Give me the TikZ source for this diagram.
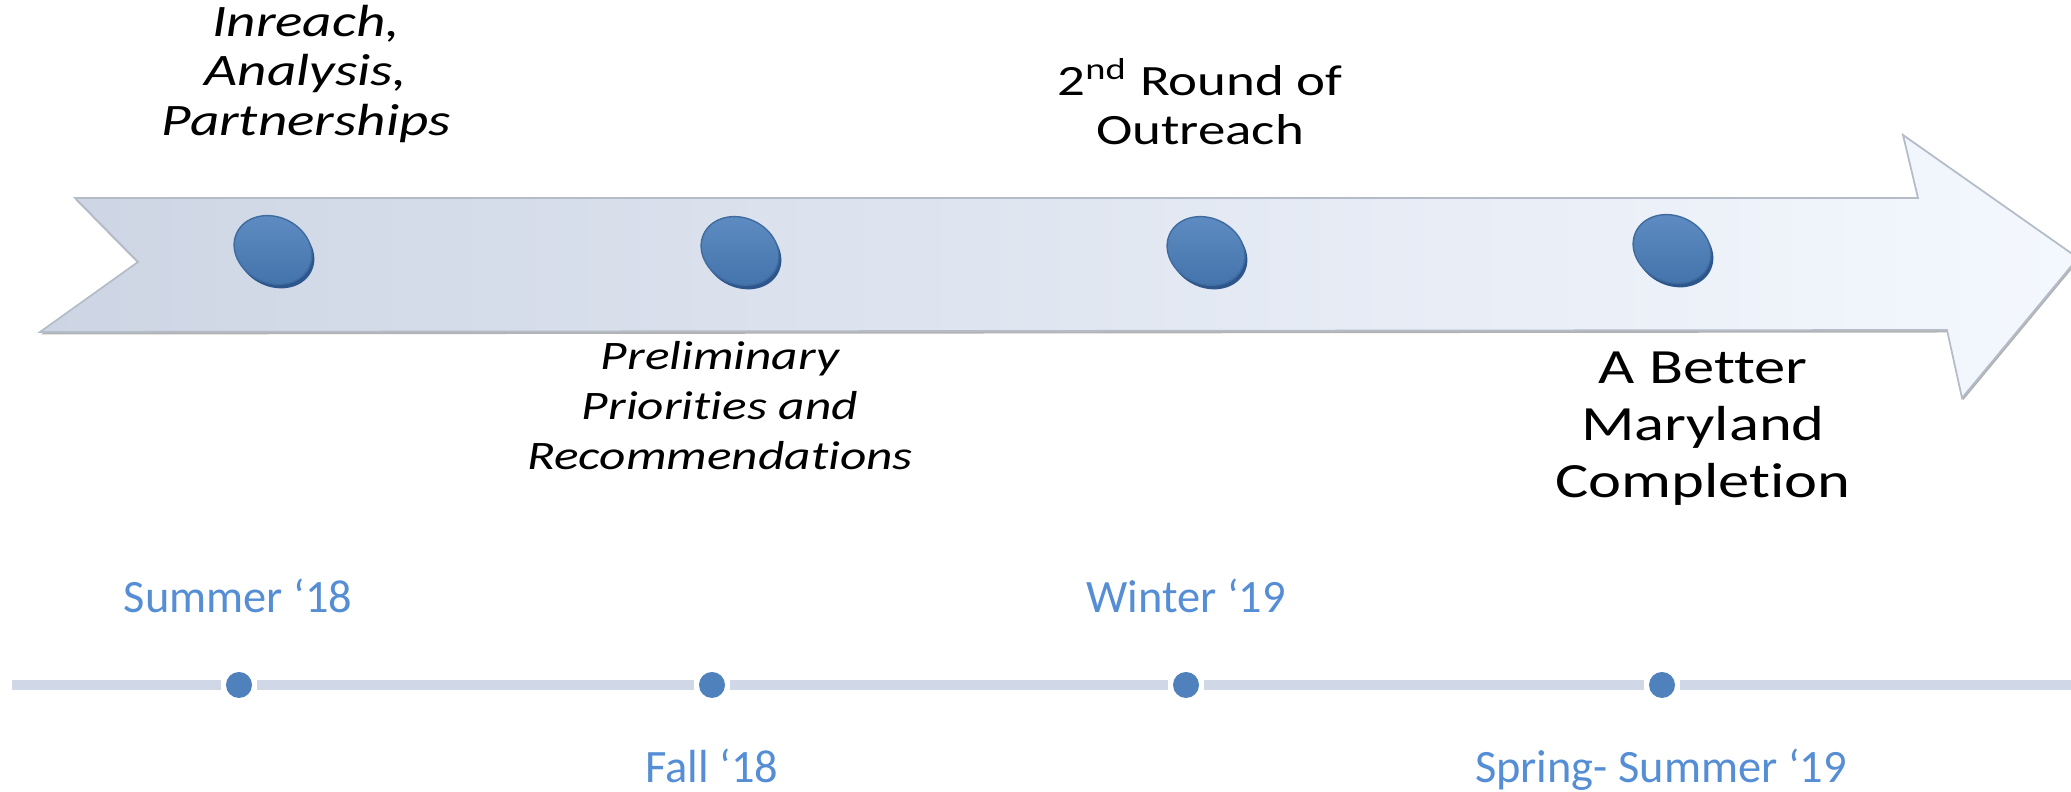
\documentclass[tikz,border=0pt]{standalone}
\usepackage{fontspec}
\setmainfont[Ligatures={NoCommon,NoRare,NoContextual},Contextuals=NoAlternate]{Carlito}
\newfontfamily\phasefont[FakeStretch=1.27,Ligatures={NoCommon,NoRare,NoContextual},Contextuals=NoAlternate]{Carlito}
\usepackage{tikz}
\usetikzlibrary{shapes,shadows}
\definecolor{bandleft}{RGB}{205,213,228}
\definecolor{bandright}{RGB}{244,248,254}
\definecolor{bandedge}{RGB}{180,188,200}
\definecolor{diskblue}{RGB}{74,126,187}
\definecolor{diskdark}{RGB}{45,86,140}
\definecolor{lineblue}{RGB}{208,216,232}
\definecolor{dotblue}{RGB}{79,129,189}
\definecolor{dateblue}{RGB}{85,142,213}

\begin{document}
\begin{tikzpicture}[x=0.01cm,y=-0.01cm]
      \tikzstyle{band} = [left color=bandleft, right color=bandright, draw=bandedge, line width=0.5pt, line join=miter, drop shadow={shadow xshift=0.01cm, shadow yshift=-0.025cm, fill=black, opacity=0.3}]
      \tikzstyle{disk} = [ellipse, minimum width=0.8cm, minimum height=0.66cm, inner sep=0pt, rotate=-25, top color=diskblue!88!white, bottom color=diskblue!92!black, draw=diskblue!85!black, line width=0.4pt, drop shadow={shadow xshift=0.025cm, shadow yshift=-0.04cm, fill=diskdark, opacity=1}]
      \tikzstyle{phase} = [align=center, inner sep=0pt, text=black]
      \tikzstyle{date} = [inner sep=0pt, anchor=base, text=dateblue, font=\fontsize{13.2}{15}\selectfont]
      \tikzstyle{dot} = [circle, fill=dotblue, minimum size=0.26cm, inner sep=0pt, outer sep=0.05cm]
      \tikzstyle{tline} = [draw=lineblue, line width=0.1cm]

      \useasboundingbox (0,0) rectangle (2071,792);

      \path[band] (75,198) -- (1918,198) -- (1903,135) -- (2078,258) -- (1962,398)
        -- (1947,330) -- (40,332) -- (138,262) -- cycle;

      \node[disk] (disk1) at (273,250) {};
      \node[disk] (disk2) at (740,251) {};
      \node[disk] (disk3) at (1206,251) {};
      \node[disk] (disk4) at (1672,249) {};

      \node[phase, font=\phasefont\itshape\fontsize{12.8}{14}\selectfont] (inreach) at (306,74) {Inreach,\\Analysis,\\Partnerships};
      \node[phase, font=\phasefont\itshape\fontsize{11.5}{14.2}\selectfont] (prelim) at (720,406) {Preliminary\\Priorities and\\Recommendations};
      \node[phase, font=\phasefont\fontsize{12.3}{14.2}\selectfont] (round2) at (1200,102) {2\textsuperscript{nd} Round of\\Outreach};
      \node[phase, font=\phasefont\fontsize{14}{16.2}\selectfont] (better) at (1703,429) {A Better\\Maryland\\Completion};

      \node[date] (summer18) at (238,613) {Summer ‘18};
      \node[date] (fall18) at (712,783) {Fall ‘18};
      \node[date] (winter19) at (1186,613) {Winter ‘19};
      \node[date] (spring19) at (1661,783) {Spring- Summer ‘19};

      \coordinate (tl0) at (12,685);
      \coordinate (tl5) at (2071,685);
      \node[dot] (dot1) at (239,685) {};
      \node[dot] (dot2) at (712,685) {};
      \node[dot] (dot3) at (1186,685) {};
      \node[dot] (dot4) at (1662,685) {};

      \draw[tline] (tl0) -- (dot1) -- (dot2) -- (dot3) -- (dot4) -- (tl5);
    \end{tikzpicture}
\end{document}
